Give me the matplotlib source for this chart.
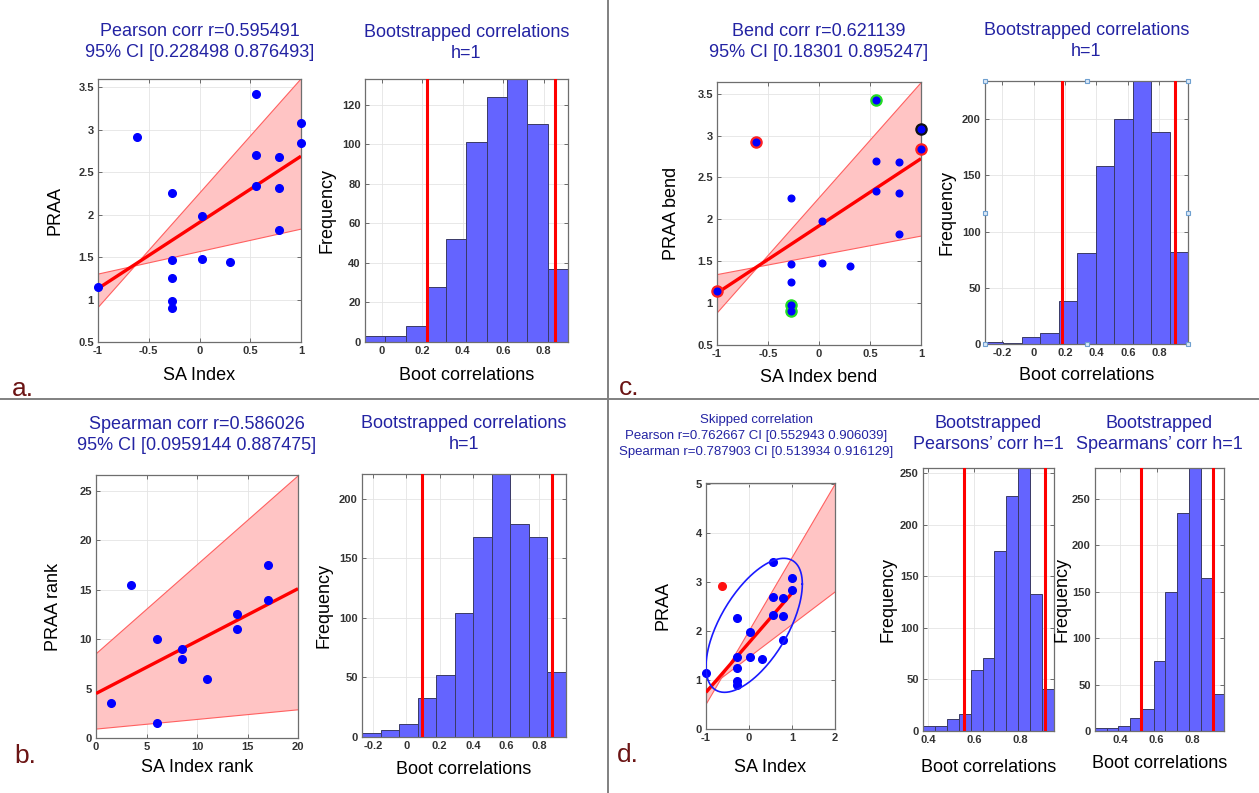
import numpy as np
import matplotlib
matplotlib.use("Agg")
import matplotlib.pyplot as plt
from matplotlib.ticker import FormatStrFormatter

plt.rcParams["font.family"] = ["Liberation Sans", "DejaVu Sans"]

# ---- data ----
sa_index = [-1, -0.62, -0.275, -0.275, -0.275, -0.275, -0.275, 0.026, 0.026,
            0.305, 0.557, 0.557, 0.557, 0.787, 0.787, 0.787, 1, 1]
praa = [1.15, 2.92, 2.26, 1.47, 1.25, 0.98, 0.905, 1.98, 1.48,
        1.44, 3.42, 2.70, 2.34, 2.68, 2.31, 1.82, 3.08, 2.84]

bend_red = [0, 1, 17]
bend_green = [10, 5, 6]
bend_black = [16]
skipped_outlier = [1]

sa_rank = [1.5, 3.5, 6, 6, 8.5, 8.5, 11, 14, 14, 17, 17]
praa_rank = [3.5, 15.5, 10, 1.5, 9, 8, 6, 12.5, 11, 17.5, 14]

# fitted lines and CI bands: x ends, fit, upper/lower band ends
pearson_x, pearson_fit = [-1, 1], [1.13, 2.69]
pearson_band = ([0.905, 3.60], [1.30, 1.83])
bend_x, bend_fit = [-1, 1], [1.12, 2.725]
bend_band = ([0.88, 3.63], [1.34, 1.80])
spear_x, spear_fit = [0, 20], [4.5, 15.1]
spear_band = ([8.5, 26.5], [0.9, 2.85])
skip_x, skip_fit = [-1, 1], [0.75, 2.78]
skip_band_x = [-1, 2]
skip_band = ([0.5, 5.0], [0.8, 2.8])

# outlier ellipse (skipped correlation)
ell_center = (0.12, 2.12)
ell_ax = (1.12, 1.37)
ell_phase = 52

# bootstrap histograms: (first edge, last edge), counts, CI lines
hist_a = ((-0.082, 0.92), [3, 3, 8, 28, 52, 101, 124, 133, 110, 37], [0.223, 0.856])
hist_c = ((-0.309, 0.983), [2, 1, 6, 10, 38, 81, 158, 200, 234, 189, 82], [0.184, 0.903])
hist_b = ((-0.268, 0.961), [3, 6, 11, 33, 52, 104, 168, 221, 179, 168, 55], [0.095, 0.876])
hist_d1 = ((0.378, 0.946), [5, 5, 12, 16, 59, 71, 175, 228, 255, 133, 41], [0.554, 0.906])
hist_d2 = ((0.261, 0.972), [3, 3, 5, 14, 24, 75, 150, 235, 283, 165, 40], [0.514, 0.914])

TITLE_C = "#2323a3"
LETTER_C = "#6b1414"
W, H = 1259, 793

fig = plt.figure(figsize=(W / 100, H / 100), dpi=100)


def add_ax(l, t, r, b):
    return fig.add_axes([l / W, 1 - b / H, (r - l) / W, (b - t) / H])


def style(ax, xticks, yticks):
    ax.set_xticks(xticks)
    ax.set_yticks(yticks)
    ax.xaxis.set_major_formatter(FormatStrFormatter("%g"))
    ax.yaxis.set_major_formatter(FormatStrFormatter("%g"))
    ax.tick_params(direction="in", top=True, right=True, length=3, width=0.6,
                   color="#555555", labelsize=8, labelcolor="#333333", pad=3)
    for lbl in ax.get_xticklabels() + ax.get_yticklabels():
        lbl.set_fontweight("bold")
        lbl.set_family(["Liberation Sans Narrow", "Liberation Sans"])
    ax.grid(True, color="#e4e4e4", lw=0.6)
    ax.set_axisbelow(True)
    for s in ax.spines.values():
        s.set_color("#6e6e6e")
        s.set_linewidth(0.9)


def labels(ax, xl, yl, xl_y, yl_x):
    ax.set_xlabel(xl, fontsize=13)
    ax.set_ylabel(yl, fontsize=13)
    bb = ax.get_position()
    ax.xaxis.set_label_coords(bb.x0 + bb.width / 2, 1 - xl_y / H, transform=fig.transFigure)
    ax.xaxis.label.set_va("center")
    ax.yaxis.set_label_coords(yl_x / W, bb.y0 + bb.height / 2, transform=fig.transFigure)
    ax.yaxis.label.set_va("center")


def title(ax, txt, pad):
    ax.set_title(txt, fontsize=13, color=TITLE_C, pad=pad, linespacing=1.3)


def band_plot(ax, x, fit, band, bx=None):
    bx = x if bx is None else bx
    ax.fill_between(bx, band[0], band[1], facecolor="#ffc4c4", edgecolor="none", zorder=1)
    ax.plot(bx, band[0], color="#ff6060", lw=0.8, zorder=2)
    ax.plot(bx, band[1], color="#ff6060", lw=0.8, zorder=2)
    ax.plot(x, fit, color="#ff0000", lw=2.4, zorder=3, solid_capstyle="butt")


def hist_plot(ax, h):
    (lo, hi), counts, ci = h
    edges = np.linspace(lo, hi, len(counts) + 1)
    ax.bar(edges[:-1], counts, width=np.diff(edges), align="edge",
           color="#6464ff", edgecolor="#3a3a66", lw=0.7, zorder=2)
    for c in ci:
        ax.axvline(c, color="#ff0000", lw=2.2, zorder=3)
    ax.set_xlim(lo, hi)
    ax.set_ylim(0, max(counts))


# ---------- panel a ----------
ax = add_ax(98, 79, 301, 342)
band_plot(ax, pearson_x, pearson_fit, pearson_band)
ax.plot(sa_index, praa, "o", color="#0000ff", ms=5.5, zorder=4, clip_on=False)
ax.set_xlim(-1, 1)
ax.set_ylim(0.5, 3.6)
style(ax, [-1, -0.5, 0, 0.5, 1], np.arange(0.5, 3.6, 0.5))
labels(ax, "SA Index", "PRAA", 375, 55)
title(ax, "Pearson corr r=0.595491\n95% CI [0.228498 0.876493]", 16)

ax = add_ax(365, 79, 568, 342)
hist_plot(ax, hist_a)
style(ax, [0, 0.2, 0.4, 0.6, 0.8], np.arange(0, 121, 20))
labels(ax, "Boot correlations", "Frequency", 375, 327)
title(ax, "Bootstrapped correlations\nh=1", 15)

# ---------- panel c ----------
ax = add_ax(717, 82, 921, 345)
band_plot(ax, bend_x, bend_fit, bend_band)
for idx, col in [(bend_red, "#ff2020"), (bend_green, "#22dd22"), (bend_black, "#111111")]:
    ax.plot([sa_index[i] for i in idx], [praa[i] for i in idx], "o", color=col,
            ms=8, zorder=4, clip_on=False)
ax.plot(sa_index, praa, "o", color="#0000ff", ms=4.8, zorder=5, clip_on=False)
ax.set_xlim(-1, 1)
ax.set_ylim(0.5, 3.64)
style(ax, [-1, -0.5, 0, 0.5, 1], np.arange(0.5, 3.6, 0.5))
labels(ax, "SA Index bend", "PRAA bend", 377, 672)
title(ax, "Bend corr r=0.621139\n95% CI [0.18301 0.895247]", 18)

ax = add_ax(985, 81, 1188, 344)
hist_plot(ax, hist_c)
style(ax, [-0.2, 0, 0.2, 0.4, 0.6, 0.8], np.arange(0, 201, 50))
labels(ax, "Boot correlations", "Frequency", 375, 947)
title(ax, "Bootstrapped correlations\nh=1", 18)
for hx in [0, 0.5, 1]:
    for hy in [0, 0.5, 1]:
        if hx == 0.5 and hy == 0.5:
            continue
        ax.plot(hx, hy, "s", ms=3, mfc="#dbe9f7", mec="#6fa0d0", mew=0.8,
                transform=ax.transAxes, clip_on=False, zorder=6)

# ---------- panel b ----------
ax = add_ax(96, 475, 298, 738)
band_plot(ax, spear_x, spear_fit, spear_band)
ax.plot(sa_rank, praa_rank, "o", color="#0000ff", ms=5.5, zorder=4, clip_on=False)
ax.set_xlim(0, 20)
ax.set_ylim(0, 26.6)
style(ax, [0, 5, 10, 15, 20], [0, 5, 10, 15, 20, 25])
labels(ax, "SA Index rank", "PRAA rank", 768, 53)
title(ax, "Spearman corr r=0.586026\n95% CI [0.0959144 0.887475]", 18)

ax = add_ax(362, 474, 566, 737)
hist_plot(ax, hist_b)
style(ax, [-0.2, 0, 0.2, 0.4, 0.6, 0.8], np.arange(0, 201, 50))
labels(ax, "Boot correlations", "Frequency", 770, 324)
title(ax, "Bootstrapped correlations\nh=1", 18)

# ---------- panel d ----------
ax = add_ax(706, 483, 835, 729)
band_plot(ax, skip_x, skip_fit, skip_band, skip_band_x)
keep = [i for i in range(len(sa_index)) if i not in skipped_outlier]
ax.plot([sa_index[i] for i in keep], [praa[i] for i in keep], "o", color="#0000ff",
        ms=5.5, zorder=4, clip_on=False)
ax.plot([sa_index[i] for i in skipped_outlier], [praa[i] for i in skipped_outlier], "o",
        color="#ff1010", ms=5.5, zorder=4)
t = np.linspace(0, 2 * np.pi, 200)
ax.plot(ell_center[0] + ell_ax[0] * np.cos(t),
        ell_center[1] + ell_ax[1] * np.cos(t - np.deg2rad(ell_phase)),
        color="#1a1aff", lw=1.2, zorder=4)
ax.set_xlim(-1, 2)
ax.set_ylim(0, 5.03)
style(ax, [-1, 0, 1, 2], [0, 1, 2, 3, 4, 5])
labels(ax, "SA Index", "PRAA", 768, 663)
fig.text(756 / W, 1 - 436 / H,
         "Skipped correlation\nPearson r=0.762667 CI [0.552943 0.906039]\n"
         "Spearman r=0.787903 CI [0.513934 0.916129]",
         ha="center", va="center", fontsize=9.5, color=TITLE_C, linespacing=1.45)

ax = add_ax(923, 468, 1054, 731)
hist_plot(ax, hist_d1)
style(ax, [0.4, 0.6, 0.8], np.arange(0, 251, 50))
labels(ax, "Boot correlations", "Frequency", 767, 888)
title(ax, "Bootstrapped\nPearsons\u2019 corr h=1", 14)

ax = add_ax(1095, 468, 1224, 731)
hist_plot(ax, hist_d2)
style(ax, [0.4, 0.6, 0.8], np.arange(0, 251, 50))
labels(ax, "Boot correlations", "Frequency", 763, 1062)
title(ax, "Bootstrapped\nSpearmans\u2019 corr h=1", 14)

# ---------- dividers and panel letters ----------
fig.add_artist(plt.Line2D([608 / W, 608 / W], [0, 1], color="#808080", lw=1.4))
fig.add_artist(plt.Line2D([0, 1], [1 - 399 / H, 1 - 399 / H], color="#808080", lw=1.4))
for txt, x, y in [("a.", 12, 396), ("b.", 14, 763), ("c.", 619, 395), ("d.", 617, 762)]:
    fig.text(x / W, 1 - y / H, txt, fontsize=19, color=LETTER_C, ha="left", va="baseline")

fig.savefig("out.png", dpi=100)
